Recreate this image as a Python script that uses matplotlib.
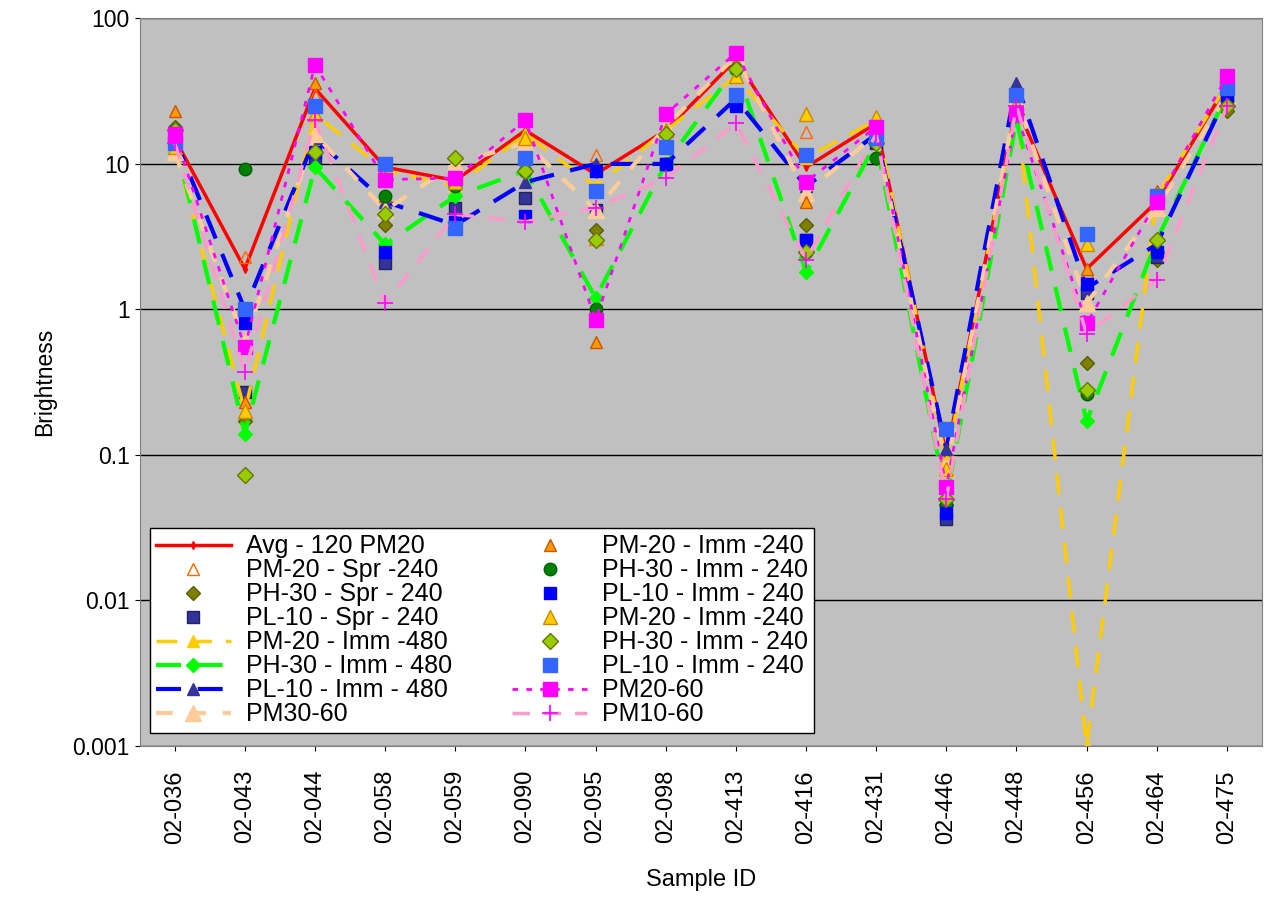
import matplotlib
matplotlib.use("Agg")
import matplotlib.pyplot as plt
plt.rcParams['font.family'] = ['Liberation Sans', 'DejaVu Sans']

samples = ["02-036","02-043","02-044","02-058","02-059","02-090","02-095","02-098",
           "02-413","02-416","02-431","02-446","02-448","02-456","02-464","02-475"]

avg_120_pm20 = [15,1.9,33,9.5,7.7,17,8.5,17,52,9.5,19,0.1,25,1.9,5.5,35]
pm20_spr_240 = [16,2.3,30,9,8,16,11.5,18,55,16.5,18,0.1,25,1.8,6,35]
ph30_spr_240 = [18,0.17,12,3.8,11,9,3.5,16,45,3.8,11,0.045,22,0.43,2.2,23]
pl10_spr_240 = [15,0.27,11,2.1,5,5.8,4.8,10,27,3,14,0.036,22,1.3,2.3,29]
pm20_imm_480 = [13,0.2,22,9,7,16,7,17,40,11,20,0.09,25,0.001,6,35]
ph30_imm_480 = [15,0.14,9.5,2.8,6,9,1.2,10,46,1.8,14,0.05,20,0.17,3,30]
pl10_imm_480 = [15,1.0,15,5.5,3.8,7.5,10,10,28,7,16,0.11,36,1.4,2.8,30]
pm30_60 = [12,0.6,16,4.8,10,14,4.8,18,55,6.3,16,0.08,28,1.1,5,30]
pm20_imm_240a = [23,0.23,36,6,7.5,15,0.6,17,50,5.5,20,0.06,25,1.9,6.5,37]
ph30_imm_240a = [17,9.3,12,6,7,9,1.0,10,45,2.5,11,0.045,22,0.26,2.5,27]
pl10_imm_240a = [15,0.8,12,2.5,4,4.4,9,10,25,3,15,0.04,22,1.5,2.5,30]
pm20_imm_240b = [13,0.2,22,8,7.5,15,3.1,17,40,22,21,0.08,26,2.8,6,35]
ph30_imm_240b = [17,0.073,12,4.5,11,9,3,16,45,2.5,14,0.05,22,0.28,3,25]
pl10_imm_240b = [14,1.0,25,10,3.6,11,6.5,13,30,11.5,15,0.15,30,3.3,6,33]
pm20_60 = [16,0.55,48,7.8,8,20,0.85,22,58,7.5,18,0.06,22,0.8,5.5,40]
pm10_60 = [14,0.37,20,1.1,4.5,4,5,8,19,2.2,16,0.05,25,0.68,1.6,25]

fig = plt.figure(figsize=(12.69, 9.23), dpi=100)
ax = fig.add_axes([0.110, 0.192, 0.8845, 0.788])
ax.set_facecolor("#C0C0C0")
x = list(range(len(samples)))

series = [
    (avg_120_pm20, "Avg - 120 PM20", dict(color="red", ls="-", lw=2.5, marker="d", ms=4)),
    (pm20_spr_240, "PM-20 - Spr -240", dict(ls="none", marker="^", ms=9, mfc="none", mec="#FF6600")),
    (ph30_spr_240, "PH-30 - Spr - 240", dict(ls="none", marker="D", ms=7, mfc="#808000", mec="#556000")),
    (pl10_spr_240, "PL-10 - Spr - 240", dict(ls="none", marker="s", ms=9, mfc="#333399", mec="#222266")),
    (pm20_imm_480, "PM-20 - Imm -480", dict(color="#FFCC00", ls=(0,(6,4)), lw=2.5, marker="^", ms=9)),
    (ph30_imm_480, "PH-30 - Imm - 480", dict(color="#00FF00", ls=(0,(6,4)), lw=3, marker="D", ms=7)),
    (pl10_imm_480, "PL-10 - Imm - 480", dict(color="#0000FF", ls=(0,(6,4)), lw=3, marker="^", ms=9, mfc="#333399", mec="#333399")),
    (pm30_60, "PM30-60", dict(color="#FFCC99", ls=(0,(4,4)), lw=3, marker="^", ms=12)),
    (pm20_imm_240a, "PM-20 - Imm -240", dict(ls="none", marker="^", ms=9, mfc="#FF9900", mec="#CC5500")),
    (ph30_imm_240a, "PH-30 - Imm - 240", dict(ls="none", marker="o", ms=9, mfc="#008000", mec="#006000")),
    (pl10_imm_240a, "PL-10 - Imm - 240", dict(ls="none", marker="s", ms=9, mfc="#0000FF", mec="#0000FF")),
    (pm20_imm_240b, "PM-20 - Imm -240", dict(ls="none", marker="^", ms=10, mfc="#FFCC00", mec="#CC8800")),
    (ph30_imm_240b, "PH-30 - Imm - 240", dict(ls="none", marker="D", ms=8, mfc="#99CC00", mec="#667700")),
    (pl10_imm_240b, "PL-10 - Imm - 240", dict(ls="none", marker="s", ms=10, mfc="#3366FF", mec="#3366FF")),
    (pm20_60, "PM20-60", dict(color="#FF00FF", ls=(0,(2,3)), lw=2, marker="s", ms=10)),
    (pm10_60, "PM10-60", dict(color="#FF99CC", ls=(0,(5,4)), lw=2.5, marker="+", ms=12, mec="#FF00FF", mew=1.2)),
]
for vals, lab, kw in series:
    ax.plot(x, vals, label=lab, **kw)

ax.set_yscale("log")
ax.set_ylim(0.001, 100)
ax.set_xlim(-0.5, len(samples) - 0.5)
ax.set_yticks([0.001, 0.01, 0.1, 1, 10, 100])
ax.set_yticklabels(["0.001", "0.01", "0.1", "1", "10", "100"], fontsize=16.5)
ax.minorticks_off()
ax.yaxis.grid(True, color="black", lw=1)
ax.set_axisbelow(True)
ax.set_xticks(x)
ax.set_xticklabels(samples, rotation=90, fontsize=17)
ax.tick_params(axis="x", pad=14)
ax.set_xlabel("Sample ID", fontsize=17, labelpad=18)
ax.set_ylabel("Brightness", fontsize=16.5, labelpad=12)
for s in ax.spines.values():
    s.set_color("#808080")

leg = ax.legend(ncol=2, loc="lower left", bbox_to_anchor=(0.009, 0.018), borderaxespad=0,
                fontsize=18, frameon=True, fancybox=False, edgecolor="black", framealpha=1,
                borderpad=0.25, labelspacing=0.0, handlelength=3.0, columnspacing=2.4,
                handletextpad=0.6)
fig.savefig("out.png", dpi=100, facecolor="white")
